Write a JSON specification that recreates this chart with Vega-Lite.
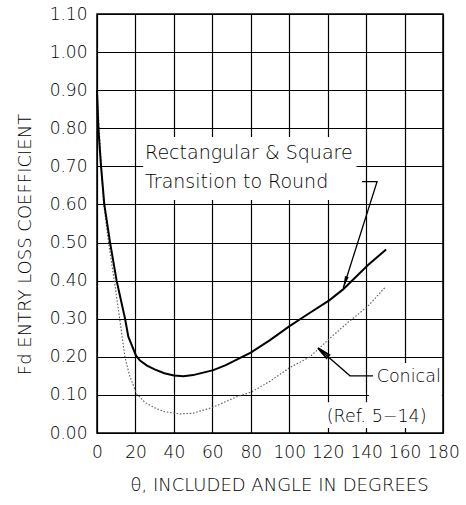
{
  "$schema": "https://vega.github.io/schema/vega-lite/v6.json",
  "width": 346,
  "height": 419,
  "autosize": {"type": "none"},
  "padding": {"left": 97, "top": 14, "right": 23, "bottom": 72},
  "background": "white",
  "config": {
    "view": {"stroke": "black", "strokeWidth": 1.5},
    "font": "DejaVu Sans"
  },
  "datasets": {
    "curves": [
      {"series": "Rectangular", "theta": 0, "value": 0.90},
      {"series": "Rectangular", "theta": 0.7, "value": 0.80},
      {"series": "Rectangular", "theta": 2.1, "value": 0.70},
      {"series": "Rectangular", "theta": 3.8, "value": 0.60},
      {"series": "Rectangular", "theta": 6.8, "value": 0.50},
      {"series": "Rectangular", "theta": 10.2, "value": 0.40},
      {"series": "Rectangular", "theta": 14.6, "value": 0.30},
      {"series": "Rectangular", "theta": 16.3, "value": 0.253},
      {"series": "Rectangular", "theta": 20.3, "value": 0.203},
      {"series": "Rectangular", "theta": 22.4, "value": 0.19},
      {"series": "Rectangular", "theta": 26, "value": 0.177},
      {"series": "Rectangular", "theta": 30, "value": 0.167},
      {"series": "Rectangular", "theta": 35, "value": 0.157},
      {"series": "Rectangular", "theta": 40, "value": 0.151},
      {"series": "Rectangular", "theta": 45, "value": 0.149},
      {"series": "Rectangular", "theta": 50, "value": 0.152},
      {"series": "Rectangular", "theta": 60.5, "value": 0.165},
      {"series": "Rectangular", "theta": 67, "value": 0.178},
      {"series": "Rectangular", "theta": 74, "value": 0.196},
      {"series": "Rectangular", "theta": 80, "value": 0.211},
      {"series": "Rectangular", "theta": 90, "value": 0.244},
      {"series": "Rectangular", "theta": 100, "value": 0.28},
      {"series": "Rectangular", "theta": 110, "value": 0.313},
      {"series": "Rectangular", "theta": 121, "value": 0.349},
      {"series": "Rectangular", "theta": 128, "value": 0.377},
      {"series": "Rectangular", "theta": 141, "value": 0.441},
      {"series": "Rectangular", "theta": 150.4, "value": 0.482},
      {"series": "Conical", "theta": 0, "value": 0.90},
      {"series": "Conical", "theta": 3.3, "value": 0.61},
      {"series": "Conical", "theta": 6, "value": 0.50},
      {"series": "Conical", "theta": 9, "value": 0.40},
      {"series": "Conical", "theta": 11.8, "value": 0.30},
      {"series": "Conical", "theta": 14.5, "value": 0.20},
      {"series": "Conical", "theta": 17, "value": 0.15},
      {"series": "Conical", "theta": 20.6, "value": 0.103},
      {"series": "Conical", "theta": 25, "value": 0.08},
      {"series": "Conical", "theta": 30, "value": 0.066},
      {"series": "Conical", "theta": 35, "value": 0.056},
      {"series": "Conical", "theta": 43, "value": 0.05},
      {"series": "Conical", "theta": 50, "value": 0.052},
      {"series": "Conical", "theta": 60.5, "value": 0.068},
      {"series": "Conical", "theta": 72.7, "value": 0.095},
      {"series": "Conical", "theta": 80.5, "value": 0.108},
      {"series": "Conical", "theta": 90, "value": 0.136},
      {"series": "Conical", "theta": 100.4, "value": 0.172},
      {"series": "Conical", "theta": 110.8, "value": 0.20},
      {"series": "Conical", "theta": 121, "value": 0.248},
      {"series": "Conical", "theta": 130, "value": 0.288},
      {"series": "Conical", "theta": 141, "value": 0.333},
      {"series": "Conical", "theta": 149.8, "value": 0.382}
    ],
    "boxes": [
      {"box": "rect", "theta": 24, "theta2": 135, "value": 0.777, "value2": 0.612},
      {"box": "conical", "theta": 141.5, "theta2": 179.4, "value": 0.184, "value2": 0.075},
      {"box": "ref", "theta": 118.6, "theta2": 179.4, "value": 0.081, "value2": 0.013}
    ],
    "leaders": [
      {"leader": "rect", "order": 1, "theta": 137.9, "value": 0.66},
      {"leader": "rect", "order": 2, "theta": 145.7, "value": 0.66},
      {"leader": "rect", "order": 3, "theta": 128.1, "value": 0.38},
      {"leader": "conical", "order": 1, "theta": 143.6, "value": 0.15},
      {"leader": "conical", "order": 2, "theta": 131.6, "value": 0.15},
      {"leader": "conical", "order": 3, "theta": 115, "value": 0.223}
    ],
    "arrows": [
      {"arrow": "rect", "theta": 128.1, "value": 0.38},
      {"arrow": "conical", "theta": 115, "value": 0.223}
    ],
    "labels": [
      {"group": "main", "label": "Rectangular & Square", "theta": 25, "value": 0.734},
      {"group": "main", "label": "Transition to Round", "theta": 25, "value": 0.66},
      {"group": "small", "label": "Conical", "theta": 145.5, "value": 0.147},
      {"group": "small", "label": "(Ref. 5−14)", "theta": 119.5, "value": 0.043}
    ]
  },
  "encoding": {
    "x": {
      "field": "theta",
      "type": "quantitative",
      "scale": {"domain": [0, 180], "nice": false, "zero": false},
      "axis": {
        "values": [0, 20, 40, 60, 80, 100, 120, 140, 160, 180],
        "grid": true,
        "gridColor": "black",
        "gridWidth": 1.2,
        "gridOpacity": 1,
        "domain": false,
        "ticks": false,
        "tickSize": 0,
        "labelFont": "DejaVu Sans",
        "labelFontSize": 17,
        "labelFontWeight": 200,
        "labelColor": "black",
        "labelPadding": 11,
        "labelFlush": false,
        "labelOverlap": false,
        "title": "θ,  INCLUDED  ANGLE  IN  DEGREES",
        "titleFont": "DejaVu Sans",
        "titleFontSize": 18,
        "titleFontWeight": 200,
        "titleColor": "black",
        "titleX": 182,
        "titleY": 57,
        "titleBaseline": "alphabetic"
      }
    },
    "y": {
      "field": "value",
      "type": "quantitative",
      "scale": {"domain": [0, 1.1], "nice": false, "zero": false},
      "axis": {
        "values": [0, 0.1, 0.2, 0.3, 0.4, 0.5, 0.6, 0.7, 0.8, 0.9, 1.0, 1.1],
        "format": ".2f",
        "grid": true,
        "gridColor": "black",
        "gridWidth": 1.2,
        "gridOpacity": 1,
        "domain": false,
        "ticks": false,
        "tickSize": 0,
        "labelFont": "DejaVu Sans",
        "labelFontSize": 17,
        "labelFontWeight": 200,
        "labelColor": "black",
        "labelPadding": 10,
        "labelFlush": false,
        "labelOverlap": false,
        "title": "Fd  ENTRY LOSS COEFFICIENT",
        "titleFont": "DejaVu Sans",
        "titleFontSize": 18,
        "titleFontWeight": 200,
        "titleColor": "black",
        "titleX": -67,
        "titleY": 230,
        "titleBaseline": "alphabetic"
      }
    }
  },
  "layer": [
    {
      "data": {"name": "boxes"},
      "mark": {"type": "rect", "fill": "white", "stroke": null},
      "encoding": {
        "x2": {"field": "theta2"},
        "y2": {"field": "value2"}
      }
    },
    {
      "data": {"name": "curves"},
      "transform": [{"filter": "datum.series === 'Conical'"}],
      "mark": {"type": "line", "color": "#555555", "strokeWidth": 1.1, "strokeDash": [1.5, 1.8]},
      "encoding": {}
    },
    {
      "data": {"name": "curves"},
      "transform": [{"filter": "datum.series === 'Rectangular'"}],
      "mark": {"type": "line", "color": "black", "strokeWidth": 2},
      "encoding": {}
    },
    {
      "data": {"name": "leaders"},
      "mark": {"type": "line", "color": "black", "strokeWidth": 1.3},
      "encoding": {
        "detail": {"field": "leader"},
        "order": {"field": "order"}
      }
    },
    {
      "data": {"name": "arrows"},
      "transform": [{"filter": "datum.arrow === 'rect'"}],
      "mark": {"type": "point", "shape": "M0,0L0.32,2L-0.32,2Z", "size": 150, "filled": true, "color": "black", "opacity": 1, "angle": 197},
      "encoding": {}
    },
    {
      "data": {"name": "arrows"},
      "transform": [{"filter": "datum.arrow === 'conical'"}],
      "mark": {"type": "point", "shape": "M0,0L0.32,2L-0.32,2Z", "size": 170, "filled": false, "stroke": "black", "strokeWidth": 1.8, "opacity": 1, "angle": 311},
      "encoding": {}
    },
    {
      "data": {"name": "labels"},
      "transform": [{"filter": "datum.group === 'main'"}],
      "mark": {"type": "text", "align": "left", "baseline": "middle", "font": "DejaVu Sans", "fontSize": 19, "fontWeight": 200, "color": "black"},
      "encoding": {"text": {"field": "label"}}
    },
    {
      "data": {"name": "labels"},
      "transform": [{"filter": "datum.group === 'small'"}],
      "mark": {"type": "text", "align": "left", "baseline": "middle", "font": "DejaVu Sans", "fontSize": 17.5, "fontWeight": 200, "color": "black"},
      "encoding": {"text": {"field": "label"}}
    }
  ]
}
